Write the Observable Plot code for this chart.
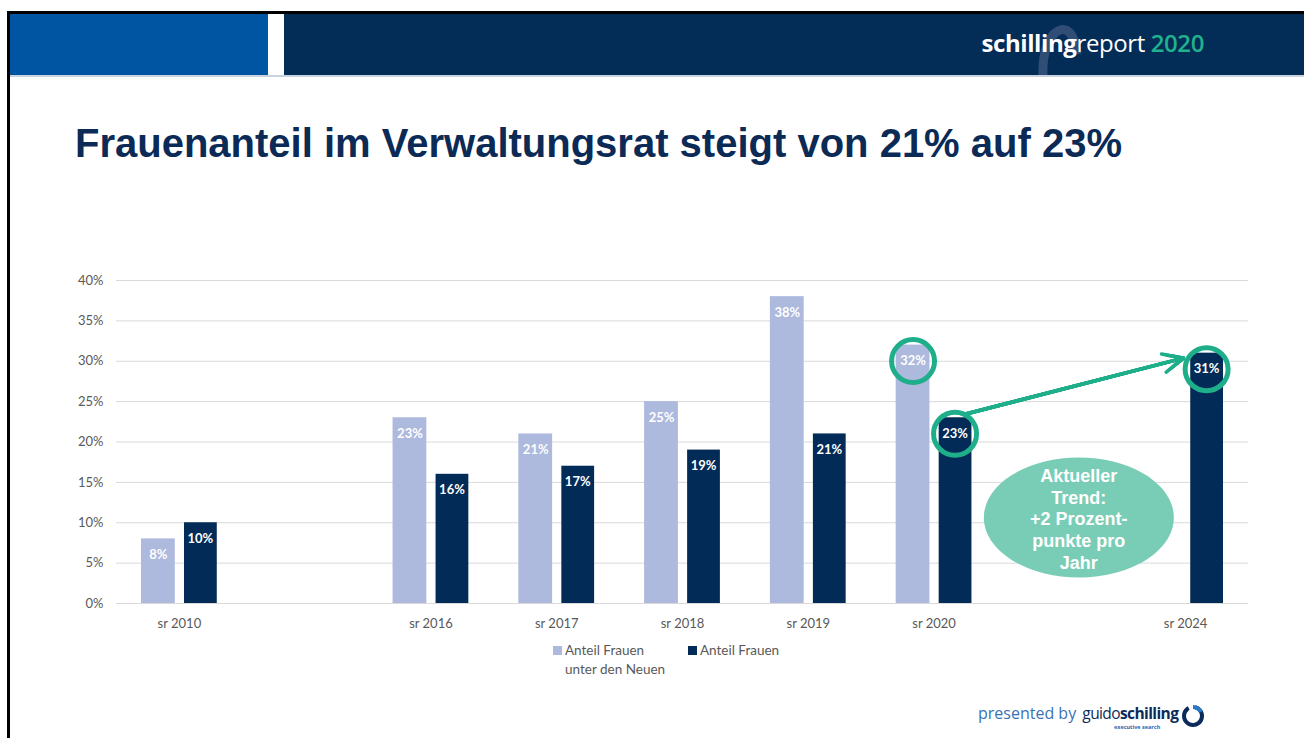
<!DOCTYPE html>
<html><head><meta charset="utf-8">
<script src="https://cdn.jsdelivr.net/npm/d3@7"></script>
<script src="https://cdn.jsdelivr.net/npm/@observablehq/plot@0.6"></script>
<style>
html,body{margin:0;padding:0;background:#fff}
body{width:1304px;height:738px;overflow:hidden;position:relative;font-family:Lato,"Open Sans",sans-serif}
.abs{position:absolute}
#topline{left:8px;top:11px;width:1296px;height:3px;background:#000}
#leftline{left:7px;top:11px;width:3px;height:727px;background:#000}
#hb1{left:10px;top:14px;width:258px;height:61px;background:#0055a2}
#hb2{left:284px;top:14px;width:1020px;height:61px;background:#032c57}
#hline{left:10px;top:75px;width:1294px;height:2px;background:#c9d3df}
#brand{left:0;top:26px;width:1204px;text-align:right;font-family:"Open Sans",sans-serif;font-size:24px;color:#fff;letter-spacing:-0.4px;white-space:nowrap}
#brand b{font-weight:700}
#brand .yr{color:#22b08d;font-weight:600}
#title{left:75px;top:121px;font-family:"Liberation Sans",Arial,sans-serif;font-weight:700;font-size:40px;color:#0b2a56;white-space:nowrap}
#chart{left:0;top:260px}
#legend{left:553px;top:641px;font-family:Lato,sans-serif;font-size:13.5px;color:#595959;line-height:19px}
.li{position:absolute;white-space:nowrap}
.sw{position:absolute;width:9px;height:9px;top:5px}
#footer{left:978px;top:702px;font-family:"Open Sans",sans-serif;white-space:nowrap}
</style></head><body>
<div class="abs" id="hb1"></div>
<div class="abs" id="hb2"></div>
<svg class="abs" style="left:1020px;top:20px" width="70" height="56"><path d="M23,56 C22,35 28,14 40,10 C50,7 56,20 57,34" fill="none" stroke="#4f6688" stroke-opacity="0.6" stroke-width="9"/></svg>
<div class="abs" id="hline"></div>
<div class="abs" id="topline"></div>
<div class="abs" id="leftline"></div>
<div class="abs" id="brand"><b>schilling</b>report <span class="yr">2020</span></div>
<div class="abs" id="title">Frauenanteil im Verwaltungsrat steigt von 21% auf 23%</div>
<div class="abs" id="chart"></div>
<div class="abs" id="legend"></div>
<div class="abs" id="footer">
  <span style="font-size:16px;color:#3a72b5">presented by</span>
  <span style="font-size:15.5px;color:#0d2b5a;letter-spacing:-0.6px;margin-left:2px">guido<b>schilling</b></span>
  <span class="abs" style="left:136px;top:21px;font-size:5.5px;color:#2a66b0;font-weight:700">executive search</span>
  <svg class="abs" style="left:202px;top:1px" width="26" height="26"><circle cx="13" cy="13" r="9" fill="none" stroke="#0d2b5a" stroke-width="4" stroke-dasharray="44 6.5" transform="rotate(-40 13 13)"/><path d="M13,4 A9,9 0 0 1 21,9" fill="none" stroke="#2a78c8" stroke-width="4"/></svg>
</div>
<script>
// ---- data ----
const categories = ["sr 2010", " ", "sr 2016", "sr 2017", "sr 2018", "sr 2019", "sr 2020", "  ", "sr 2024"];
const seriesNames = ["Anteil Frauen\nunter den Neuen", "Anteil Frauen"];
const newYears = ["sr 2010", "sr 2016", "sr 2017", "sr 2018", "sr 2019", "sr 2020"];
const shareNew = [0.08, 0.23, 0.21, 0.25, 0.38, 0.32];
const totalYears = ["sr 2010", "sr 2016", "sr 2017", "sr 2018", "sr 2019", "sr 2020", "sr 2024"];
const shareTotal = [0.10, 0.16, 0.17, 0.19, 0.21, 0.23, 0.31];
const yTicks = [0, 0.05, 0.10, 0.15, 0.20, 0.25, 0.30, 0.35, 0.40];
const highlightNew = [{year: "sr 2020", value: 0.32}];
const highlightTotal = [{year: "sr 2020", value: 0.23}, {year: "sr 2024", value: 0.31}];
const trend = [{from: "sr 2020", v1: 0.23, to: "sr 2024", v2: 0.31}];
const trendNote = [{slot: "  ", value: 0.1065, text: "Aktueller\nTrend:\n+2 Prozent-\npunkte pro\nJahr"}];

const colNew = "#adb9dd", colTotal = "#032b57", green = "#1fae8a";
const dataNew = newYears.map((year, i) => ({year, value: shareNew[i]}));
const dataTotal = totalYears.map((year, i) => ({year, value: shareTotal[i]}));
const pct = d3.format(".0%");

// ellipse symbol
const ellipse = {draw(ctx) {
  const rx = 95, ry = 60, k = 0.5523;
  ctx.moveTo(rx, 0);
  ctx.bezierCurveTo(rx, ry * k, rx * k, ry, 0, ry);
  ctx.bezierCurveTo(-rx * k, ry, -rx, ry * k, -rx, 0);
  ctx.bezierCurveTo(-rx, -ry * k, -rx * k, -ry, 0, -ry);
  ctx.bezierCurveTo(rx * k, -ry, rx, -ry * k, rx, 0);
  ctx.closePath();
}};

const arrowOpts = {x1: "from", y1: "v1", x2: "to", y2: "v2", dx: 21, dy: -1, stroke: green, strokeWidth: 3.5, insetStart: 10, insetEnd: 24, headAngle: 50};

const chart = Plot.plot({
  width: 1304, height: 380,
  marginLeft: 116, marginRight: 56, marginTop: 20, marginBottom: 37,
  style: {fontFamily: "Lato, sans-serif", fontSize: "13px", color: "#595959", background: "transparent"},
  x: {domain: categories, padding: 0, round: false, tickSize: 0, tickPadding: 15, label: null},
  y: {domain: [0, 0.4], ticks: yTicks, tickFormat: pct, tickSize: 0, tickPadding: 13, label: null},
  marks: [
    Plot.gridY(yTicks, {stroke: "#d9d9d9", strokeOpacity: 1, strokeWidth: 1}),
    Plot.barY(dataNew, {x: "year", y: "value", fill: colNew, insetLeft: 25, insetRight: 67}),
    Plot.barY(dataTotal, {x: "year", y: "value", fill: colTotal, insetLeft: 68, insetRight: 25}),
    Plot.text(dataNew, {x: "year", y: "value", text: d => pct(d.value), dx: -21, dy: 16, fill: "white", fontWeight: "bold", fontSize: 13}),
    Plot.text(dataTotal, {x: "year", y: "value", text: d => pct(d.value), dx: 21, dy: 16, fill: "white", fontWeight: "bold", fontSize: 13}),
    Plot.dot(highlightNew, {x: "year", y: "value", dx: -21, dy: 16, r: 21.5, stroke: green, strokeWidth: 5, fill: "none"}),
    Plot.dot(highlightTotal, {x: "year", y: "value", dx: 21, dy: 16, r: 21.5, stroke: green, strokeWidth: 5, fill: "none"}),
    Plot.arrow(trend, {...arrowOpts, headLength: 9.5}),
    Plot.arrow(trend, {...arrowOpts, headLength: 7.5}),
    Plot.arrow(trend, {...arrowOpts, headLength: 5.5}),
    Plot.arrow(trend, {...arrowOpts, headLength: 3.5}),
    Plot.arrow(trend, {...arrowOpts, headLength: 1.5}),
    Plot.dot(trendNote, {x: "slot", y: "value", dx: 19, symbol: ellipse, fill: "#79cdb6", stroke: "none"}),
    Plot.text(trendNote, {x: "slot", y: "value", dx: 19, dy: 1, text: "text", fill: "white", fontWeight: "bold", fontSize: 18, lineHeight: 1.2, fontFamily: "Liberation Sans, Arial, sans-serif"})
  ]
});
document.getElementById("chart").appendChild(chart);

// legend
const lg = document.getElementById("legend");
[[seriesNames[0], colNew, 0], [seriesNames[1], colTotal, 135]].forEach(([name, col, x]) => {
  const sw = document.createElement("div"); sw.className = "sw"; sw.style.left = x + "px"; sw.style.background = col; lg.appendChild(sw);
  const t = document.createElement("div"); t.className = "li"; t.style.left = (x + 12) + "px"; t.style.top = "0px";
  t.innerHTML = name.split("\n").join("<br>"); lg.appendChild(t);
});
</script>
</body></html>
